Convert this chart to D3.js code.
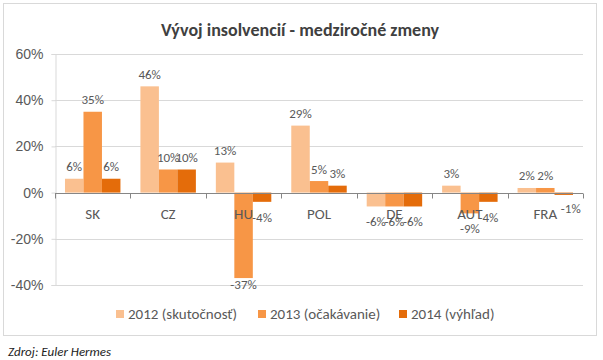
<!DOCTYPE html>
<html><head><meta charset="utf-8">
<script src="https://cdn.jsdelivr.net/npm/d3@7"></script>
<style>body{margin:0;background:#fff}svg{display:block;font-family:Carlito,Lato,"Open Sans",sans-serif}</style>
</head><body><svg id="c" width="603" height="360"></svg>
<script>
const title = "Vývoj insolvencií - medziročné zmeny";
const categories = ["SK","CZ","HU","POL","DE","AUT","FRA"];
const seriesNames = ["2012 (skutočnosť)","2013 (očakávanie)","2014 (výhľad)"];
const s2012 = [6,46,13,29,-6,3,2];
const s2013 = [35,10,-37,5,-6,-9,2];
const s2014 = [6,10,-4,3,-6,-4,-1];
const yTicks = [-40,-20,0,20,40,60];
const colors = ["#FAC090","#F79646","#E46C0A"];
const source = "Zdroj: Euler Hermes";

const series = [s2012,s2013,s2014];
const svg = d3.select("#c");
svg.append("rect").attr("x",3.5).attr("y",3.5).attr("width",593).attr("height",332)
  .attr("fill","#fff").attr("stroke","#d9d9d9");

const x0 = d3.scaleBand().domain(categories).range([55,583]);
const x1 = d3.scaleBand().domain([0,1,2]).range([0,x0.bandwidth()]).paddingOuter(0.54);
const y = d3.scaleLinear().domain([-40,60]).range([285,54]);

svg.append("text").attr("x",300).attr("y",36).attr("text-anchor","middle")
  .attr("font-size",18).attr("font-weight","bold").attr("fill","#404040").text(title);

// gridlines
svg.append("g").selectAll("line").data(yTicks.filter(d=>d!==0)).join("line")
  .attr("x1",55).attr("x2",583).attr("y1",d=>Math.round(y(d))+0.5).attr("y2",d=>Math.round(y(d))+0.5)
  .attr("stroke","#d9d9d9");
// y axis
const ya = svg.append("g").attr("transform","translate(55.5,0)")
  .call(d3.axisLeft(y).tickValues(yTicks).tickFormat(d=>d+"%").tickSize(4).tickPadding(8));
ya.select(".domain").attr("stroke","#d9d9d9");
ya.selectAll(".tick line").attr("stroke","#d9d9d9");
ya.selectAll("text").attr("font-size",14).attr("fill","#595959").attr("font-family",null);

// bars
const g = svg.append("g");
categories.forEach((c,i)=>{
  series.forEach((s,j)=>{
    const v = s[i];
    g.append("rect").attr("x",x0(c)+x1(j)).attr("width",x1.bandwidth())
      .attr("y",y(Math.max(0,v))).attr("height",Math.abs(y(v)-y(0)))
      .attr("fill",colors[j]);
  });
});

// x axis line at 0
const xa = svg.append("g").attr("transform",`translate(0,${Math.round(y(0))+0.5})`);
xa.append("line").attr("x1",55).attr("x2",583).attr("stroke","#868686");
xa.selectAll("line.t").data(d3.range(categories.length+1)).join("line").attr("class","t")
  .attr("x1",i=>Math.round(55+i*x0.step())+0.5).attr("x2",i=>Math.round(55+i*x0.step())+0.5)
  .attr("y1",0).attr("y2",5).attr("stroke","#868686");
svg.append("g").selectAll("text").data(categories).join("text")
  .attr("x",d=>x0(d)+x0.bandwidth()/2).attr("y",219).attr("text-anchor","middle")
  .attr("font-size",15).attr("fill","#595959").text(d=>d);

// data labels (Excel "outside end"; last small negative label nudged aside of the category text)
const lg = svg.append("g");
categories.forEach((c,i)=>{
  series.forEach((s,j)=>{
    const v = s[i];
    let lx = x0(c)+x1(j)+x1.bandwidth()/2;
    let ly = v>=0 ? y(v)-7.5 : Math.min(y(v)+20, 289);
    if (v<0 && y(v)-y(0) < 5) { lx += 7; ly = y(v)+18; }
    lg.append("text").attr("x",lx).attr("y",ly)
      .attr("text-anchor","middle").attr("font-size",13).attr("fill","#595959")
      .text(v+"%");
  });
});

// legend
const legX = [116,258,399];
const leg = svg.append("g");
seriesNames.forEach((n,j)=>{
  leg.append("rect").attr("x",legX[j]).attr("y",310).attr("width",8).attr("height",8).attr("fill",colors[j]);
  leg.append("text").attr("x",legX[j]+12).attr("y",319).attr("font-size",15).attr("fill","#595959").text(n);
});

svg.append("text").attr("x",8).attr("y",356).attr("font-size",13).attr("font-style","italic")
  .attr("fill","#222").text(source);
</script></body></html>
